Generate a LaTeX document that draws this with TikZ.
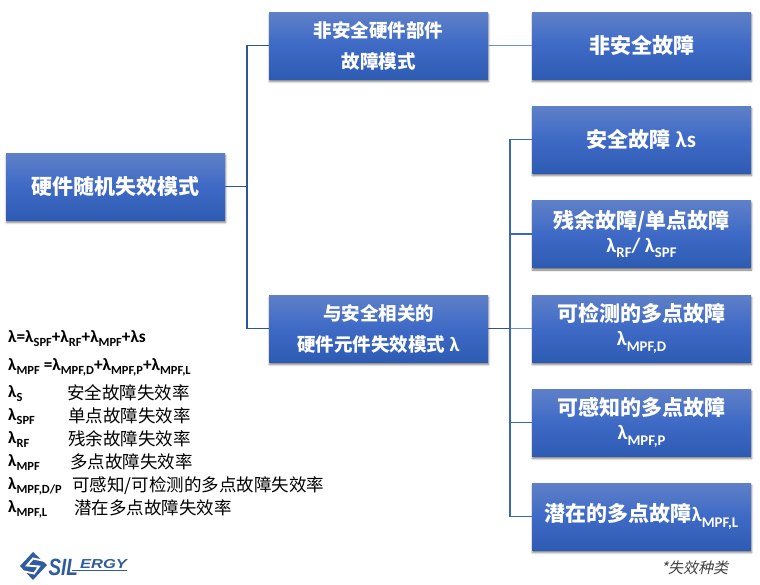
\documentclass[tikz,border=0pt]{standalone}
\usepackage{fontspec}
\usepackage{graphicx}
\usetikzlibrary{shadows,shadows.blur}
\setmainfont{Carlito}
\newfontfamily\cjk{Noto Sans CJK SC}
\newfontfamily\cjkit[FakeSlant=0.22]{Noto Sans CJK SC}
\newfontfamily\logofont{Liberation Sans}
\newcommand\sbs[1]{\raisebox{-.28em}{\scalebox{.72}{#1}}}
\newcommand\lam[1]{λ\sbs{#1}}
\newcommand\latb{\normalfont\bfseries\fontsize{20.5}{30}\selectfont}
\newcommand\latc{\normalfont\bfseries\fontsize{23}{30}\selectfont}
\definecolor{boxtop}{HTML}{5F80C8}
\definecolor{boxmid}{HTML}{3E6AC6}
\definecolor{boxbot}{HTML}{2E5BB2}
\definecolor{linedark}{HTML}{2F5597}
\definecolor{linemid}{HTML}{3A68B5}
\definecolor{linelight}{HTML}{6F90D0}
\definecolor{logoblue}{HTML}{2F5C9E}
\tikzset{
  fbox/.style={rectangle,minimum width=219pt,minimum height=67pt,inner sep=0pt,
    top color=boxtop,bottom color=boxbot,middle color=boxmid,text=white,align=center,
    font=\cjk\bfseries\fontsize{21}{30}\selectfont,
    blur shadow={shadow xshift=.5pt,shadow yshift=-2.5pt,shadow blur radius=2pt,shadow opacity=55}},
  midbox/.style={fbox,font=\cjk\bfseries\fontsize{18.5}{31}\selectfont},
  darkline/.style={draw=linedark,line width=1.1pt},
  midline/.style={draw=linemid,line width=1.1pt},
  lightline/.style={draw=linelight,line width=1.2pt},
  formula/.style={anchor=base west,inner sep=0pt,font=\bfseries\fontsize{17.3}{18}\selectfont},
  sym/.style={formula},
  desc/.style={anchor=base west,inner sep=0pt,font=\cjk\fontsize{17.5}{20}\selectfont},
}
\begin{document}
\begin{tikzpicture}[x=1pt,y=-1pt]
\useasboundingbox (0,0) rectangle (760,584);
\coordinate (j1) at (247,186.5);
\coordinate (j2) at (510,328.5);
\node[fbox] (root) at (115.5,186.5) {\raisebox{1pt}{硬件随机失效模式}};
\node[midbox] (nshw) at (378.5,45.5) {\raisebox{1pt}{非安全硬件部件}\\\raisebox{1pt}{故障模式}};
\node[midbox] (shw) at (378.5,328.5) {\raisebox{1pt}{与安全相关的}\\\raisebox{1pt}{硬件元件失效模式 {\latb λ}}};
\node[fbox] (r1) at (641.5,45.5) {\raisebox{1pt}{非安全故障}};
\node[fbox] (r2) at (641.5,139.5) {\raisebox{1pt}{安全故障 {\latc λs}}};
\node[fbox] (r3) at (641.5,234) {残余故障/单点故障\\[-6pt]{\latb\lam{RF}/ \lam{SPF}}};
\node[fbox] (r4) at (641.5,328.5) {可检测的多点故障\\[-6pt]{\latb\lam{MPF,D}}};
\node[fbox] (r5) at (641.5,422.5) {可感知的多点故障\\[-6pt]{\latb\lam{MPF,P}}};
\node[fbox] (r6) at (641.5,516.5) {潜在的多点故障{\latb\lam{MPF,L}}};

\draw[darkline] (root.east) -- (j1) |- (nshw.west);
\draw[darkline] (j1) |- (shw.west);
\draw[lightline] (nshw.east) -- (r1.west);
\draw[darkline] (shw.east) -- (j2);
\draw[lightline] (j2) -- (r4.west);
\draw[midline] (j2) |- (r2.west);
\draw[midline] (j2) |- (r3.west);
\draw[midline] (j2) |- (r5.west);
\draw[midline] (j2) |- (r6.west);

\node[formula] (f1) at (8,342) {λ=\lam{SPF}+\lam{RF}+\lam{MPF}+λs};
\node[formula] (f2) at (8,370) {\lam{MPF} =\lam{MPF,D}+\lam{MPF,P}+\lam{MPF,L}};
\node[sym] (s1) at (8,397) {\lam{S}};
\node[desc] (d1) at (67,399) {安全故障失效率};
\node[sym] (s2) at (8,420) {\lam{SPF}};
\node[desc] (d2) at (68,422) {单点故障失效率};
\node[sym] (s3) at (8,443) {\lam{RF}};
\node[desc] (d3) at (68,445) {残余故障失效率};
\node[sym] (s4) at (8,466) {\lam{MPF}};
\node[desc] (d4) at (70,468) {多点故障失效率};
\node[sym] (s5) at (8,489) {\lam{MPF,D/P}};
\node[desc] (d5) at (72,491) {可感知/可检测的多点故障失效率};
\node[sym] (s6) at (8,512) {\lam{MPF,L}};
\node[desc] (d6) at (74,514) {潜在多点故障失效率};

% logo
\fill[logoblue] (20,566) -- (33,552) -- (47,565) -- (33,580) -- cycle;
\draw[white,line width=1.9pt,line join=miter] (45,561) -- (33,558.5) -- (27,565.5) -- (39,566.5) -- (34,573.5) -- (22,571);
\node[anchor=base west,inner sep=0pt,text=logoblue,font=\logofont\bfseries\itshape\fontsize{23.5}{24}\selectfont] (logoa) at (48.5,575) {\scalebox{.8}[1]{SIL}};
\node[anchor=base west,inner sep=0pt,text=logoblue,font=\logofont\bfseries\itshape\fontsize{13}{13}\selectfont] (logob) at (80,568) {\scalebox{1.27}[1]{ERGY}};
\draw[logoblue,line width=1.5pt] (72,570.5) -- (127,570.5);

\node[anchor=base west,inner sep=0pt,text=black!75,font=\cjkit\fontsize{15}{15}\selectfont] (note) at (661,573.5) {*失效种类};
\end{tikzpicture}
\end{document}
